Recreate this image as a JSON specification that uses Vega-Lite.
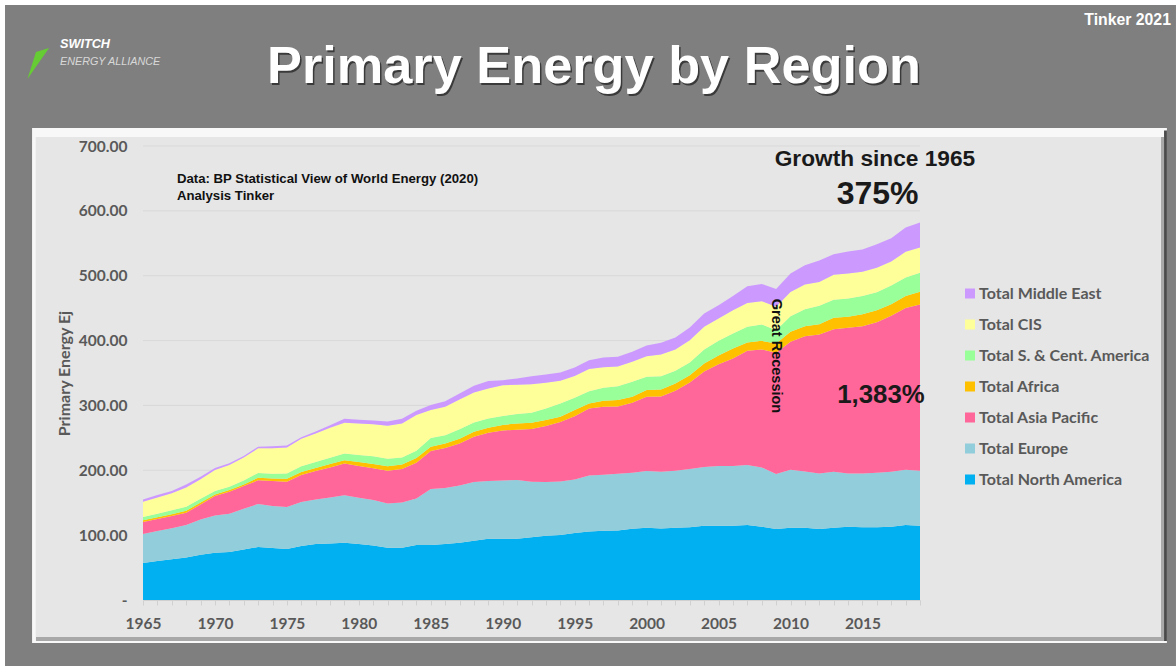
{"$schema":"https://vega.github.io/schema/vega-lite/v6.json","width":777,"height":454,"autosize":{"type":"none"},"padding":{"left":143,"top":146,"right":256,"bottom":66},"background":"#ffffff","config":{"view":{"stroke":null},"text":{"font":"Liberation Sans"}},
"datasets":{"energy":[
{"year":1965,"region":"Total North America","ej":57.0},{"year":1965,"region":"Total Europe","ej":44.7},{"year":1965,"region":"Total Asia Pacific","ej":18.5},{"year":1965,"region":"Total Africa","ej":2.6},{"year":1965,"region":"Total S. & Cent. America","ej":5.1},{"year":1965,"region":"Total CIS","ej":23.6},{"year":1965,"region":"Total Middle East","ej":3.6},
{"year":1966,"region":"Total North America","ej":60.1},{"year":1966,"region":"Total Europe","ej":46.2},{"year":1966,"region":"Total Asia Pacific","ej":18.5},{"year":1966,"region":"Total Africa","ej":2.6},{"year":1966,"region":"Total S. & Cent. America","ej":5.6},{"year":1966,"region":"Total CIS","ej":25.2},{"year":1966,"region":"Total Middle East","ej":3.6},
{"year":1967,"region":"Total North America","ej":62.7},{"year":1967,"region":"Total Europe","ej":47.8},{"year":1967,"region":"Total Asia Pacific","ej":19.0},{"year":1967,"region":"Total Africa","ej":2.6},{"year":1967,"region":"Total S. & Cent. America","ej":6.2},{"year":1967,"region":"Total CIS","ej":26.2},{"year":1967,"region":"Total Middle East","ej":3.6},
{"year":1968,"region":"Total North America","ej":65.7},{"year":1968,"region":"Total Europe","ej":49.8},{"year":1968,"region":"Total Asia Pacific","ej":19.0},{"year":1968,"region":"Total Africa","ej":3.1},{"year":1968,"region":"Total S. & Cent. America","ej":6.2},{"year":1968,"region":"Total CIS","ej":29.8},{"year":1968,"region":"Total Middle East","ej":4.6},
{"year":1969,"region":"Total North America","ej":69.8},{"year":1969,"region":"Total Europe","ej":54.4},{"year":1969,"region":"Total Asia Pacific","ej":23.1},{"year":1969,"region":"Total Africa","ej":3.1},{"year":1969,"region":"Total S. & Cent. America","ej":5.6},{"year":1969,"region":"Total CIS","ej":30.3},{"year":1969,"region":"Total Middle East","ej":3.6},
{"year":1970,"region":"Total North America","ej":72.9},{"year":1970,"region":"Total Europe","ej":57.5},{"year":1970,"region":"Total Asia Pacific","ej":29.8},{"year":1970,"region":"Total Africa","ej":2.6},{"year":1970,"region":"Total S. & Cent. America","ej":5.1},{"year":1970,"region":"Total CIS","ej":32.4},{"year":1970,"region":"Total Middle East","ej":3.1},
{"year":1971,"region":"Total North America","ej":74.0},{"year":1971,"region":"Total Europe","ej":59.1},{"year":1971,"region":"Total Asia Pacific","ej":33.9},{"year":1971,"region":"Total Africa","ej":2.6},{"year":1971,"region":"Total S. & Cent. America","ej":5.1},{"year":1971,"region":"Total CIS","ej":33.4},{"year":1971,"region":"Total Middle East","ej":2.6},
{"year":1972,"region":"Total North America","ej":78.0},{"year":1972,"region":"Total Europe","ej":62.7},{"year":1972,"region":"Total Asia Pacific","ej":34.9},{"year":1972,"region":"Total Africa","ej":2.6},{"year":1972,"region":"Total S. & Cent. America","ej":6.2},{"year":1972,"region":"Total CIS","ej":35.4},{"year":1972,"region":"Total Middle East","ej":2.1},
{"year":1973,"region":"Total North America","ej":81.7},{"year":1973,"region":"Total Europe","ej":66.3},{"year":1973,"region":"Total Asia Pacific","ej":36.5},{"year":1973,"region":"Total Africa","ej":4.1},{"year":1973,"region":"Total S. & Cent. America","ej":7.2},{"year":1973,"region":"Total CIS","ej":38.0},{"year":1973,"region":"Total Middle East","ej":2.6},
{"year":1974,"region":"Total North America","ej":80.1},{"year":1974,"region":"Total Europe","ej":64.7},{"year":1974,"region":"Total Asia Pacific","ej":38.5},{"year":1974,"region":"Total Africa","ej":4.1},{"year":1974,"region":"Total S. & Cent. America","ej":7.2},{"year":1974,"region":"Total CIS","ej":39.5},{"year":1974,"region":"Total Middle East","ej":3.1},
{"year":1975,"region":"Total North America","ej":78.6},{"year":1975,"region":"Total Europe","ej":64.7},{"year":1975,"region":"Total Asia Pacific","ej":39.0},{"year":1975,"region":"Total Africa","ej":4.6},{"year":1975,"region":"Total S. & Cent. America","ej":8.2},{"year":1975,"region":"Total CIS","ej":40.1},{"year":1975,"region":"Total Middle East","ej":3.1},
{"year":1976,"region":"Total North America","ej":83.2},{"year":1976,"region":"Total Europe","ej":67.8},{"year":1976,"region":"Total Asia Pacific","ej":41.6},{"year":1976,"region":"Total Africa","ej":4.6},{"year":1976,"region":"Total S. & Cent. America","ej":9.2},{"year":1976,"region":"Total CIS","ej":42.1},{"year":1976,"region":"Total Middle East","ej":2.6},
{"year":1977,"region":"Total North America","ej":86.3},{"year":1977,"region":"Total Europe","ej":68.8},{"year":1977,"region":"Total Asia Pacific","ej":43.7},{"year":1977,"region":"Total Africa","ej":4.6},{"year":1977,"region":"Total S. & Cent. America","ej":9.2},{"year":1977,"region":"Total CIS","ej":44.2},{"year":1977,"region":"Total Middle East","ej":3.1},
{"year":1978,"region":"Total North America","ej":87.3},{"year":1978,"region":"Total Europe","ej":70.9},{"year":1978,"region":"Total Asia Pacific","ej":46.2},{"year":1978,"region":"Total Africa","ej":5.1},{"year":1978,"region":"Total S. & Cent. America","ej":9.8},{"year":1978,"region":"Total CIS","ej":46.2},{"year":1978,"region":"Total Middle East","ej":4.1},
{"year":1979,"region":"Total North America","ej":88.3},{"year":1979,"region":"Total Europe","ej":73.4},{"year":1979,"region":"Total Asia Pacific","ej":48.8},{"year":1979,"region":"Total Africa","ej":5.1},{"year":1979,"region":"Total S. & Cent. America","ej":10.3},{"year":1979,"region":"Total CIS","ej":47.3},{"year":1979,"region":"Total Middle East","ej":6.2},
{"year":1980,"region":"Total North America","ej":86.3},{"year":1980,"region":"Total Europe","ej":71.4},{"year":1980,"region":"Total Asia Pacific","ej":48.8},{"year":1980,"region":"Total Africa","ej":6.2},{"year":1980,"region":"Total S. & Cent. America","ej":10.8},{"year":1980,"region":"Total CIS","ej":48.8},{"year":1980,"region":"Total Middle East","ej":5.6},
{"year":1981,"region":"Total North America","ej":84.2},{"year":1981,"region":"Total Europe","ej":69.8},{"year":1981,"region":"Total Asia Pacific","ej":49.3},{"year":1981,"region":"Total Africa","ej":6.2},{"year":1981,"region":"Total S. & Cent. America","ej":12.3},{"year":1981,"region":"Total CIS","ej":49.3},{"year":1981,"region":"Total Middle East","ej":5.6},
{"year":1982,"region":"Total North America","ej":80.6},{"year":1982,"region":"Total Europe","ej":68.3},{"year":1982,"region":"Total Asia Pacific","ej":50.3},{"year":1982,"region":"Total Africa","ej":7.2},{"year":1982,"region":"Total S. & Cent. America","ej":11.3},{"year":1982,"region":"Total CIS","ej":50.8},{"year":1982,"region":"Total Middle East","ej":6.7},
{"year":1983,"region":"Total North America","ej":80.6},{"year":1983,"region":"Total Europe","ej":69.8},{"year":1983,"region":"Total Asia Pacific","ej":51.4},{"year":1983,"region":"Total Africa","ej":7.2},{"year":1983,"region":"Total S. & Cent. America","ej":10.8},{"year":1983,"region":"Total CIS","ej":52.4},{"year":1983,"region":"Total Middle East","ej":7.2},
{"year":1984,"region":"Total North America","ej":84.7},{"year":1984,"region":"Total Europe","ej":71.9},{"year":1984,"region":"Total Asia Pacific","ej":55.0},{"year":1984,"region":"Total Africa","ej":7.2},{"year":1984,"region":"Total S. & Cent. America","ej":11.3},{"year":1984,"region":"Total CIS","ej":55.0},{"year":1984,"region":"Total Middle East","ej":6.7},
{"year":1985,"region":"Total North America","ej":84.7},{"year":1985,"region":"Total Europe","ej":86.3},{"year":1985,"region":"Total Asia Pacific","ej":58.6},{"year":1985,"region":"Total Africa","ej":6.7},{"year":1985,"region":"Total S. & Cent. America","ej":13.4},{"year":1985,"region":"Total CIS","ej":43.1},{"year":1985,"region":"Total Middle East","ej":7.7},
{"year":1986,"region":"Total North America","ej":86.3},{"year":1986,"region":"Total Europe","ej":86.3},{"year":1986,"region":"Total Asia Pacific","ej":61.6},{"year":1986,"region":"Total Africa","ej":7.2},{"year":1986,"region":"Total S. & Cent. America","ej":12.8},{"year":1986,"region":"Total CIS","ej":43.7},{"year":1986,"region":"Total Middle East","ej":8.7},
{"year":1987,"region":"Total North America","ej":88.3},{"year":1987,"region":"Total Europe","ej":88.3},{"year":1987,"region":"Total Asia Pacific","ej":64.7},{"year":1987,"region":"Total Africa","ej":7.2},{"year":1987,"region":"Total S. & Cent. America","ej":14.9},{"year":1987,"region":"Total CIS","ej":45.7},{"year":1987,"region":"Total Middle East","ej":9.2},
{"year":1988,"region":"Total North America","ej":91.4},{"year":1988,"region":"Total Europe","ej":90.4},{"year":1988,"region":"Total Asia Pacific","ej":69.8},{"year":1988,"region":"Total Africa","ej":7.7},{"year":1988,"region":"Total S. & Cent. America","ej":14.4},{"year":1988,"region":"Total CIS","ej":46.2},{"year":1988,"region":"Total Middle East","ej":10.3},
{"year":1989,"region":"Total North America","ej":94.5},{"year":1989,"region":"Total Europe","ej":88.9},{"year":1989,"region":"Total Asia Pacific","ej":74.5},{"year":1989,"region":"Total Africa","ej":7.7},{"year":1989,"region":"Total S. & Cent. America","ej":14.4},{"year":1989,"region":"Total CIS","ej":46.2},{"year":1989,"region":"Total Middle East","ej":11.3},
{"year":1990,"region":"Total North America","ej":94.5},{"year":1990,"region":"Total Europe","ej":89.9},{"year":1990,"region":"Total Asia Pacific","ej":77.0},{"year":1990,"region":"Total Africa","ej":8.6},{"year":1990,"region":"Total S. & Cent. America","ej":13.6},{"year":1990,"region":"Total CIS","ej":47.4},{"year":1990,"region":"Total Middle East","ej":8.0},
{"year":1991,"region":"Total North America","ej":94.5},{"year":1991,"region":"Total Europe","ej":90.4},{"year":1991,"region":"Total Asia Pacific","ej":77.6},{"year":1991,"region":"Total Africa","ej":9.8},{"year":1991,"region":"Total S. & Cent. America","ej":14.3},{"year":1991,"region":"Total CIS","ej":45.4},{"year":1991,"region":"Total Middle East","ej":9.6},
{"year":1992,"region":"Total North America","ej":96.6},{"year":1992,"region":"Total Europe","ej":85.7},{"year":1992,"region":"Total Asia Pacific","ej":81.2},{"year":1992,"region":"Total Africa","ej":9.7},{"year":1992,"region":"Total S. & Cent. America","ej":15.4},{"year":1992,"region":"Total CIS","ej":44.2},{"year":1992,"region":"Total Middle East","ej":12.2},
{"year":1993,"region":"Total North America","ej":99.1},{"year":1993,"region":"Total Europe","ej":82.7},{"year":1993,"region":"Total Asia Pacific","ej":86.3},{"year":1993,"region":"Total Africa","ej":9.3},{"year":1993,"region":"Total S. & Cent. America","ej":17.9},{"year":1993,"region":"Total CIS","ej":39.6},{"year":1993,"region":"Total Middle East","ej":12.8},
{"year":1994,"region":"Total North America","ej":100.2},{"year":1994,"region":"Total Europe","ej":82.6},{"year":1994,"region":"Total Asia Pacific","ej":91.5},{"year":1994,"region":"Total Africa","ej":8.2},{"year":1994,"region":"Total S. & Cent. America","ej":20.5},{"year":1994,"region":"Total CIS","ej":35.0},{"year":1994,"region":"Total Middle East","ej":12.8},
{"year":1995,"region":"Total North America","ej":103.2},{"year":1995,"region":"Total Europe","ej":82.7},{"year":1995,"region":"Total Asia Pacific","ej":97.6},{"year":1995,"region":"Total Africa","ej":9.3},{"year":1995,"region":"Total S. & Cent. America","ej":19.0},{"year":1995,"region":"Total CIS","ej":33.4},{"year":1995,"region":"Total Middle East","ej":13.3},
{"year":1996,"region":"Total North America","ej":105.8},{"year":1996,"region":"Total Europe","ej":86.3},{"year":1996,"region":"Total Asia Pacific","ej":103.2},{"year":1996,"region":"Total Africa","ej":7.7},{"year":1996,"region":"Total S. & Cent. America","ej":19.0},{"year":1996,"region":"Total CIS","ej":34.0},{"year":1996,"region":"Total Middle East","ej":13.8},
{"year":1997,"region":"Total North America","ej":106.8},{"year":1997,"region":"Total Europe","ej":86.3},{"year":1997,"region":"Total Asia Pacific","ej":104.8},{"year":1997,"region":"Total Africa","ej":9.2},{"year":1997,"region":"Total S. & Cent. America","ej":20.1},{"year":1997,"region":"Total CIS","ej":31.8},{"year":1997,"region":"Total Middle East","ej":14.9},
{"year":1998,"region":"Total North America","ej":107.3},{"year":1998,"region":"Total Europe","ej":87.4},{"year":1998,"region":"Total Asia Pacific","ej":103.7},{"year":1998,"region":"Total Africa","ej":9.8},{"year":1998,"region":"Total S. & Cent. America","ej":21.5},{"year":1998,"region":"Total CIS","ej":30.5},{"year":1998,"region":"Total Middle East","ej":14.8},
{"year":1999,"region":"Total North America","ej":109.9},{"year":1999,"region":"Total Europe","ej":86.3},{"year":1999,"region":"Total Asia Pacific","ej":107.8},{"year":1999,"region":"Total Africa","ej":9.3},{"year":1999,"region":"Total S. & Cent. America","ej":23.1},{"year":1999,"region":"Total CIS","ej":30.9},{"year":1999,"region":"Total Middle East","ej":15.3},
{"year":2000,"region":"Total North America","ej":111.5},{"year":2000,"region":"Total Europe","ej":87.3},{"year":2000,"region":"Total Asia Pacific","ej":114.5},{"year":2000,"region":"Total Africa","ej":10.3},{"year":2000,"region":"Total S. & Cent. America","ej":20.5},{"year":2000,"region":"Total CIS","ej":31.9},{"year":2000,"region":"Total Middle East","ej":16.4},
{"year":2001,"region":"Total North America","ej":110.4},{"year":2001,"region":"Total Europe","ej":87.4},{"year":2001,"region":"Total Asia Pacific","ej":116.0},{"year":2001,"region":"Total Africa","ej":10.8},{"year":2001,"region":"Total S. & Cent. America","ej":20.5},{"year":2001,"region":"Total CIS","ej":33.5},{"year":2001,"region":"Total Middle East","ej":17.9},
{"year":2002,"region":"Total North America","ej":111.5},{"year":2002,"region":"Total Europe","ej":87.8},{"year":2002,"region":"Total Asia Pacific","ej":123.2},{"year":2002,"region":"Total Africa","ej":11.4},{"year":2002,"region":"Total S. & Cent. America","ej":19.5},{"year":2002,"region":"Total CIS","ej":32.9},{"year":2002,"region":"Total Middle East","ej":18.4},
{"year":2003,"region":"Total North America","ej":112.0},{"year":2003,"region":"Total Europe","ej":89.8},{"year":2003,"region":"Total Asia Pacific","ej":133.6},{"year":2003,"region":"Total Africa","ej":11.3},{"year":2003,"region":"Total S. & Cent. America","ej":19.5},{"year":2003,"region":"Total CIS","ej":34.4},{"year":2003,"region":"Total Middle East","ej":19.4},
{"year":2004,"region":"Total North America","ej":114.5},{"year":2004,"region":"Total Europe","ej":90.5},{"year":2004,"region":"Total Asia Pacific","ej":147.3},{"year":2004,"region":"Total Africa","ej":12.4},{"year":2004,"region":"Total S. & Cent. America","ej":21.5},{"year":2004,"region":"Total CIS","ej":35.0},{"year":2004,"region":"Total Middle East","ej":20.5},
{"year":2005,"region":"Total North America","ej":114.5},{"year":2005,"region":"Total Europe","ej":92.0},{"year":2005,"region":"Total Asia Pacific","ej":157.1},{"year":2005,"region":"Total Africa","ej":13.4},{"year":2005,"region":"Total S. & Cent. America","ej":22.6},{"year":2005,"region":"Total CIS","ej":34.4},{"year":2005,"region":"Total Middle East","ej":20.5},
{"year":2006,"region":"Total North America","ej":114.5},{"year":2006,"region":"Total Europe","ej":92.0},{"year":2006,"region":"Total Asia Pacific","ej":165.9},{"year":2006,"region":"Total Africa","ej":15.4},{"year":2006,"region":"Total S. & Cent. America","ej":23.1},{"year":2006,"region":"Total CIS","ej":35.9},{"year":2006,"region":"Total Middle East","ej":22.1},
{"year":2007,"region":"Total North America","ej":115.6},{"year":2007,"region":"Total Europe","ej":92.4},{"year":2007,"region":"Total Asia Pacific","ej":176.2},{"year":2007,"region":"Total Africa","ej":12.8},{"year":2007,"region":"Total S. & Cent. America","ej":24.2},{"year":2007,"region":"Total CIS","ej":36.9},{"year":2007,"region":"Total Middle East","ej":25.7},
{"year":2008,"region":"Total North America","ej":113.0},{"year":2008,"region":"Total Europe","ej":91.4},{"year":2008,"region":"Total Asia Pacific","ej":181.8},{"year":2008,"region":"Total Africa","ej":13.4},{"year":2008,"region":"Total S. & Cent. America","ej":25.2},{"year":2008,"region":"Total CIS","ej":35.9},{"year":2008,"region":"Total Middle East","ej":26.7},
{"year":2009,"region":"Total North America","ej":109.4},{"year":2009,"region":"Total Europe","ej":84.7},{"year":2009,"region":"Total Asia Pacific","ej":187.0},{"year":2009,"region":"Total Africa","ej":14.4},{"year":2009,"region":"Total S. & Cent. America","ej":20.5},{"year":2009,"region":"Total CIS","ej":36.0},{"year":2009,"region":"Total Middle East","ej":27.7},
{"year":2010,"region":"Total North America","ej":111.5},{"year":2010,"region":"Total Europe","ej":89.3},{"year":2010,"region":"Total Asia Pacific","ej":197.2},{"year":2010,"region":"Total Africa","ej":15.5},{"year":2010,"region":"Total S. & Cent. America","ej":24.1},{"year":2010,"region":"Total CIS","ej":37.4},{"year":2010,"region":"Total Middle East","ej":28.4},
{"year":2011,"region":"Total North America","ej":111.5},{"year":2011,"region":"Total Europe","ej":86.8},{"year":2011,"region":"Total Asia Pacific","ej":208.5},{"year":2011,"region":"Total Africa","ej":15.4},{"year":2011,"region":"Total S. & Cent. America","ej":26.2},{"year":2011,"region":"Total CIS","ej":38.0},{"year":2011,"region":"Total Middle East","ej":29.8},
{"year":2012,"region":"Total North America","ej":109.4},{"year":2012,"region":"Total Europe","ej":85.8},{"year":2012,"region":"Total Asia Pacific","ej":214.2},{"year":2012,"region":"Total Africa","ej":15.9},{"year":2012,"region":"Total S. & Cent. America","ej":28.2},{"year":2012,"region":"Total CIS","ej":37.0},{"year":2012,"region":"Total Middle East","ej":32.9},
{"year":2013,"region":"Total North America","ej":111.5},{"year":2013,"region":"Total Europe","ej":86.3},{"year":2013,"region":"Total Asia Pacific","ej":219.8},{"year":2013,"region":"Total Africa","ej":17.4},{"year":2013,"region":"Total S. & Cent. America","ej":27.8},{"year":2013,"region":"Total CIS","ej":38.5},{"year":2013,"region":"Total Middle East","ej":31.8},
{"year":2014,"region":"Total North America","ej":113.0},{"year":2014,"region":"Total Europe","ej":82.2},{"year":2014,"region":"Total Asia Pacific","ej":224.4},{"year":2014,"region":"Total Africa","ej":17.0},{"year":2014,"region":"Total S. & Cent. America","ej":28.2},{"year":2014,"region":"Total CIS","ej":38.6},{"year":2014,"region":"Total Middle East","ej":33.8},
{"year":2015,"region":"Total North America","ej":112.0},{"year":2015,"region":"Total Europe","ej":83.2},{"year":2015,"region":"Total Asia Pacific","ej":227.0},{"year":2015,"region":"Total Africa","ej":18.5},{"year":2015,"region":"Total S. & Cent. America","ej":28.2},{"year":2015,"region":"Total CIS","ej":37.1},{"year":2015,"region":"Total Middle East","ej":34.3},
{"year":2016,"region":"Total North America","ej":112.0},{"year":2016,"region":"Total Europe","ej":84.2},{"year":2016,"region":"Total Asia Pacific","ej":232.2},{"year":2016,"region":"Total Africa","ej":18.4},{"year":2016,"region":"Total S. & Cent. America","ej":27.8},{"year":2016,"region":"Total CIS","ej":37.5},{"year":2016,"region":"Total Middle East","ej":36.4},
{"year":2017,"region":"Total North America","ej":113.0},{"year":2017,"region":"Total Europe","ej":84.8},{"year":2017,"region":"Total Asia Pacific","ej":240.3},{"year":2017,"region":"Total Africa","ej":18.0},{"year":2017,"region":"Total S. & Cent. America","ej":28.8},{"year":2017,"region":"Total CIS","ej":37.0},{"year":2017,"region":"Total Middle East","ej":35.9},
{"year":2018,"region":"Total North America","ej":115.6},{"year":2018,"region":"Total Europe","ej":85.2},{"year":2018,"region":"Total Asia Pacific","ej":249.6},{"year":2018,"region":"Total Africa","ej":18.5},{"year":2018,"region":"Total S. & Cent. America","ej":28.3},{"year":2018,"region":"Total CIS","ej":39.6},{"year":2018,"region":"Total Middle East","ej":37.4},
{"year":2019,"region":"Total North America","ej":114.5},{"year":2019,"region":"Total Europe","ej":84.8},{"year":2019,"region":"Total Asia Pacific","ej":256.3},{"year":2019,"region":"Total Africa","ej":19.5},{"year":2019,"region":"Total S. & Cent. America","ej":29.3},{"year":2019,"region":"Total CIS","ej":39.0},{"year":2019,"region":"Total Middle East","ej":38.5}
]},
"encoding":{
"x":{"field":"year","type":"quantitative","scale":{"domain":[1965,2019],"nice":false,"zero":false},"title":null,"axis":{"zindex":1,"grid":false,"values":[1965,1966,1967,1968,1969,1970,1971,1972,1973,1974,1975,1976,1977,1978,1979,1980,1981,1982,1983,1984,1985,1986,1987,1988,1989,1990,1991,1992,1993,1994,1995,1996,1997,1998,1999,2000,2001,2002,2003,2004,2005,2006,2007,2008,2009,2010,2011,2012,2013,2014,2015,2016,2017,2018,2019],"labelExpr":"(datum.value-1965)%5==0?format(datum.value,'d'):''","labelOverlap":false,"labelBound":false,"labelFlush":false,"labelFont":"Lato","labelFontWeight":"bold","labelFontSize":15.5,"labelColor":"#595959","labelPadding":11,"tickColor":"#d0d0d0","tickSize":5,"domainColor":"#d0d0d0"}},
"y":{"field":"ej","type":"quantitative","scale":{"domain":[0,700],"nice":false},"title":"Primary Energy Ej","axis":{"zindex":1,"grid":false,"domain":false,"ticks":false,"values":[0,100,200,300,400,500,600,700],"labelExpr":"datum.value==0?'-':format(datum.value,'.2f')","labelFont":"Lato","labelFontWeight":"bold","labelFontSize":15.5,"labelColor":"#595959","labelPadding":16,"titleFont":"Lato","titleFontWeight":"bold","titleFontSize":16,"titleColor":"#595959","titlePadding":6}}
},
"layer":[
{"data":{"values":[{"year":1955.41,"end":2036.79,"ej":917.4,"top":-101.8}]},"mark":{"type":"rect","fill":"#7f7f7f"},"encoding":{"x2":{"field":"end"},"y2":{"field":"top"}}},
{"data":{"values":[{"year":1957.29,"end":2036.16,"ej":727.7,"top":-66.3}]},"mark":{"type":"rect","fill":"#f8f8f8"},"encoding":{"x2":{"field":"end"},"y2":{"field":"top"}}},
{"data":{"values":[{"year":2035.96,"end":2036.16,"ej":724,"top":-63.2}]},"mark":{"type":"rect","fill":"#4a4a4a"},"encoding":{"x2":{"field":"end"},"y2":{"field":"top"}}},
{"data":{"values":[{"year":1957.56,"end":2035.96,"ej":713.8,"top":-63.2}]},"mark":{"type":"rect","fill":"#a8a8a8"},"encoding":{"x2":{"field":"end"},"y2":{"field":"top"}}},
{"data":{"values":[{"year":1957.56,"end":2035.75,"ej":713.8,"top":-57}]},"mark":{"type":"rect","fill":"#e6e6e6"},"encoding":{"x2":{"field":"end"},"y2":{"field":"top"}}},
{"data":{"values":[{"year":1965,"end":2019,"ej":100},{"year":1965,"end":2019,"ej":200},{"year":1965,"end":2019,"ej":300},{"year":1965,"end":2019,"ej":400},{"year":1965,"end":2019,"ej":500},{"year":1965,"end":2019,"ej":600},{"year":1965,"end":2019,"ej":700}]},"mark":{"type":"rule","color":"#d9d9d9","strokeWidth":1},"encoding":{"x2":{"field":"end"}}},
{"data":{"name":"energy"},"transform":[{"calculate":"indexof(['Total North America','Total Europe','Total Asia Pacific','Total Africa','Total S. & Cent. America','Total CIS','Total Middle East'],datum.region)","as":"stackRank"}],"mark":{"type":"area","interpolate":"linear"},"encoding":{"order":{"field":"stackRank","type":"quantitative"},"color":{"field":"region","type":"nominal","scale":{"domain":["Total Middle East","Total CIS","Total S. & Cent. America","Total Africa","Total Asia Pacific","Total Europe","Total North America"],"range":["#cc99ff","#ffff99","#99ff99","#ffc000","#ff6699","#92cddc","#00b0f0"]},"legend":{"title":null,"orient":"none","legendX":819,"legendY":139.5,"symbolType":"square","symbolSize":100,"symbolStrokeWidth":0,"labelFont":"Lato","labelFontWeight":"bold","labelFontSize":16,"labelColor":"#595959","labelOffset":1,"rowPadding":15,"labelLimit":220}}}},
{"data":{"values":[{"year":1956.97,"ej":803.3,"low":803.3},{"year":1957.56,"ej":844.9,"low":822.3},{"year":1958.47,"ej":851,"low":851}]},"mark":{"type":"area","color":"#66cc33"},"encoding":{"y2":{"field":"low"}}},
{"data":{"values":[{"year":1996.34,"ej":797.1,"label":"Primary Energy by Region"}]},"mark":{"type":"text","font":"Liberation Sans","fontWeight":"bold","fontSize":52.3,"align":"center","baseline":"alphabetic","color":"#3a3a3a","dx":1.5,"dy":2},"encoding":{"text":{"field":"label"}}},
{"data":{"values":[{"year":1996.34,"ej":797.1,"label":"Primary Energy by Region"}]},"mark":{"type":"text","font":"Liberation Sans","fontWeight":"bold","fontSize":52.3,"align":"center","baseline":"alphabetic","color":"#ffffff"},"encoding":{"text":{"field":"label"}}},
{"data":{"values":[{"year":2036.44,"ej":886.5,"label":"Tinker 2021"}]},"mark":{"type":"text","fontWeight":"bold","fontSize":15.8,"align":"right","baseline":"alphabetic","color":"#ffffff"},"encoding":{"text":{"field":"label"}}},
{"data":{"values":[{"year":1959.23,"ej":851,"label":"SWITCH"}]},"mark":{"type":"text","fontWeight":"bold","fontStyle":"italic","fontSize":12.7,"align":"left","baseline":"alphabetic","color":"#ffffff"},"encoding":{"text":{"field":"label"}}},
{"data":{"values":[{"year":1959.23,"ej":825,"label":"ENERGY ALLIANCE"}]},"mark":{"type":"text","fontStyle":"italic","fontSize":10.8,"align":"left","baseline":"alphabetic","color":"#d8d8d8"},"encoding":{"text":{"field":"label"}}},
{"data":{"values":[{"year":1967.36,"ej":642.9,"label":"Data: BP Statistical View of World Energy (2020)"},{"year":1967.36,"ej":616.7,"label":"Analysis Tinker"}]},"mark":{"type":"text","fontWeight":"bold","fontSize":13.2,"align":"left","baseline":"alphabetic","color":"#111111"},"encoding":{"text":{"field":"label"}}},
{"data":{"values":[{"year":2015.87,"ej":669,"label":"Growth since 1965"}]},"mark":{"type":"text","fontWeight":"bold","fontSize":22.7,"align":"center","baseline":"alphabetic","color":"#1a1a1a"},"encoding":{"text":{"field":"label"}}},
{"data":{"values":[{"year":2016.05,"ej":610.6,"label":"375%"}]},"mark":{"type":"text","fontWeight":"bold","fontSize":32,"align":"center","baseline":"alphabetic","color":"#1a1a1a"},"encoding":{"text":{"field":"label"}}},
{"data":{"values":[{"year":2016.29,"ej":303.7,"label":"1,383%"}]},"mark":{"type":"text","fontWeight":"bold","fontSize":25.8,"align":"center","baseline":"alphabetic","color":"#1a1a1a"},"encoding":{"text":{"field":"label"}}},
{"data":{"values":[{"year":2008.99,"ej":376.2,"label":"Great Recession"}]},"mark":{"type":"text","fontWeight":"bold","fontSize":14.5,"angle":90,"align":"center","baseline":"middle","color":"#111111"},"encoding":{"text":{"field":"label"}}}
]}
